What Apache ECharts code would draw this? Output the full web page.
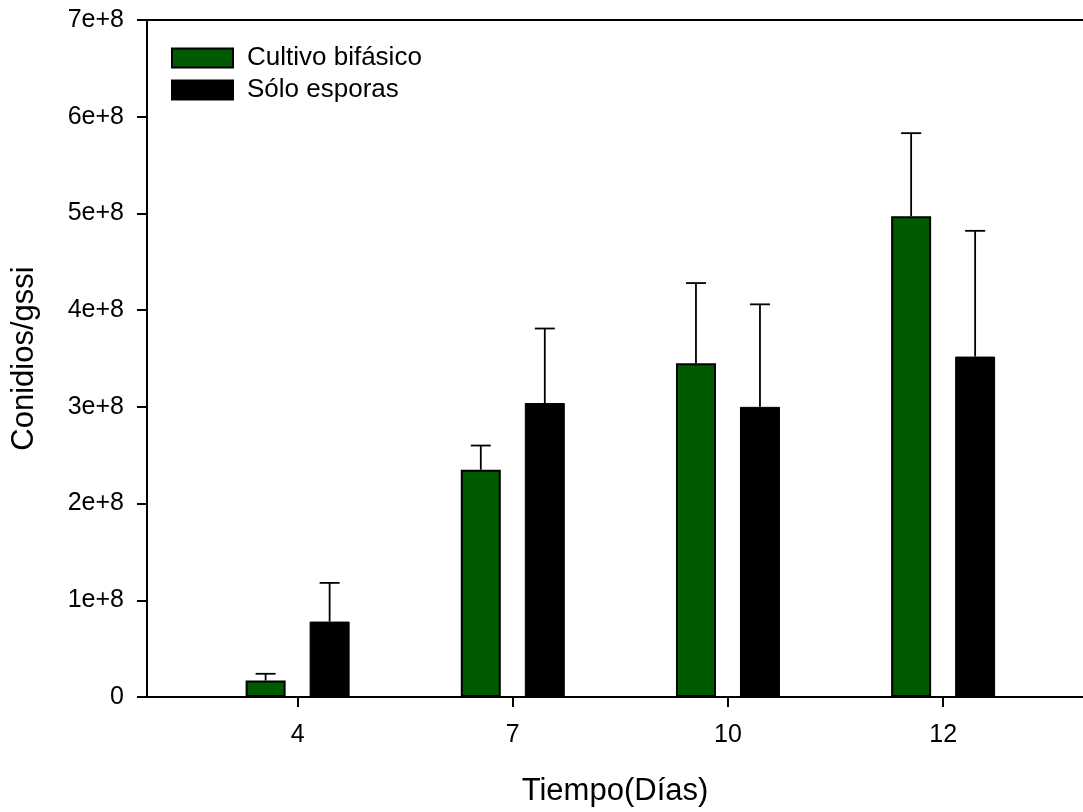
<!DOCTYPE html>
<html>
<head>
<meta charset="utf-8">
<script src="https://cdn.jsdelivr.net/npm/echarts@6/dist/echarts.min.js"></script>
<style>
  html, body { margin: 0; padding: 0; background: #fff; }
  #chart { width: 1083px; height: 812px; }
</style>
</head>
<body>
<div id="chart"></div>
<script>
// Sampling days (category positions 0..3 on the x axis)
const categories = ['4', '7', '10', '12'];

// Conidia per gram of dry substrate, mean and upper error
const cultivoBifasico = [1.7e7, 2.35e8, 3.45e8, 4.97e8];
const cultivoBifasicoErr = [0.7e7, 0.25e8, 0.83e8, 0.86e8];
const soloEsporas = [7.8e7, 3.04e8, 3.0e8, 3.52e8];
const soloEsporasErr = [0.40e8, 0.77e8, 1.06e8, 1.30e8];

const FONT = '"Liberation Sans", Arial, Helvetica, sans-serif';
const GREEN = '#005a00';
const BAR_W = 40;
const HALF_STEP = 32; // distance from category centre to each bar centre

function pairs(vals) { return vals.map((v, i) => [i, v]); }
function errTriples(vals, errs) { return vals.map((v, i) => [i, v, v + errs[i]]); }

function errorBar(offset) {
  return function (params, api) {
    const x = api.value(0);
    const p0 = api.coord([x, api.value(1)]);
    const p1 = api.coord([x, api.value(2)]);
    const cx = p0[0] + offset;
    const st = { stroke: '#000', lineWidth: 1.8 };
    return {
      type: 'group',
      children: [
        { type: 'line', shape: { x1: cx, y1: p0[1], x2: cx, y2: p1[1] }, style: st },
        { type: 'line', shape: { x1: cx - 10, y1: p1[1], x2: cx + 10, y2: p1[1] }, style: st }
      ]
    };
  };
}

const chart = echarts.init(document.getElementById('chart'), null, { renderer: 'canvas' });

chart.setOption({
  animation: false,
  backgroundColor: '#fff',
  textStyle: { fontFamily: FONT, color: '#000' },
  grid: { left: 147, right: 0, top: 20, bottom: 113, containLabel: false },
  legend: {
    orient: 'vertical',
    left: 171,
    top: 45,
    padding: 0,
    icon: 'rect',
    itemWidth: 61,
    itemHeight: 19,
    itemGap: 6,
    textStyle: { fontFamily: FONT, fontSize: 26, color: '#000', padding: [0, 0, 0, 9] },
    data: ['Cultivo bifásico', 'Sólo esporas']
  },
  xAxis: [
    {
      type: 'value',
      min: -0.7,
      max: 3.65,
      position: 'bottom',
      splitLine: { show: false },
      axisLine: { show: true, onZero: false, lineStyle: { color: '#000', width: 2 } },
      axisTick: {
        show: true, inside: false, length: 10,
        customValues: [0, 1, 2, 3],
        lineStyle: { color: '#000', width: 2 }
      },
      axisLabel: {
        customValues: [0, 1, 2, 3],
        formatter: v => categories[Math.round(v)],
        fontFamily: FONT, fontSize: 25, color: '#000', margin: 26
      },
      name: 'Tiempo(Días)',
      nameLocation: 'middle',
      nameGap: 79,
      nameTextStyle: { fontFamily: FONT, fontSize: 31, color: '#000' }
    },
    {
      type: 'value',
      min: -0.7,
      max: 3.65,
      position: 'top',
      splitLine: { show: false },
      axisLine: { show: true, onZero: false, lineStyle: { color: '#000', width: 2 } },
      axisTick: { show: false },
      axisLabel: { show: false }
    }
  ],
  yAxis: {
    type: 'value',
    min: 0,
    max: 7e8,
    interval: 1e8,
    splitLine: { show: false },
    axisLine: { show: true, onZero: false, lineStyle: { color: '#000', width: 2 } },
    axisTick: { show: true, inside: false, length: 10, lineStyle: { color: '#000', width: 2 } },
    axisLabel: {
      formatter: v => (v === 0 ? '0' : (v / 1e8) + 'e+8'),
      fontFamily: FONT, fontSize: 25, color: '#000', margin: 23
    },
    name: 'Conidios/gssi',
    nameLocation: 'middle',
    nameGap: 107,
    nameRotate: 90,
    nameTextStyle: { fontFamily: FONT, fontSize: 31, color: '#000' }
  },
  series: [
    {
      name: 'Cultivo bifásico',
      type: 'bar',
      xAxisIndex: 0,
      barWidth: BAR_W,
      barGap: '60%',
      data: pairs(cultivoBifasico),
      itemStyle: { color: GREEN, borderColor: '#000', borderWidth: 2 },
      z: 3
    },
    {
      name: 'Sólo esporas',
      type: 'bar',
      xAxisIndex: 0,
      barWidth: BAR_W,
      barGap: '60%',
      data: pairs(soloEsporas),
      itemStyle: { color: '#000', borderColor: '#000', borderWidth: 1 },
      z: 3
    },
    {
      type: 'custom',
      xAxisIndex: 0,
      renderItem: errorBar(-HALF_STEP),
      data: errTriples(cultivoBifasico, cultivoBifasicoErr),
      encode: { x: 0, y: [1, 2] },
      z: 2,
      silent: true
    },
    {
      type: 'custom',
      xAxisIndex: 0,
      renderItem: errorBar(HALF_STEP),
      data: errTriples(soloEsporas, soloEsporasErr),
      encode: { x: 0, y: [1, 2] },
      z: 2,
      silent: true
    }
  ]
});
</script>
</body>
</html>
